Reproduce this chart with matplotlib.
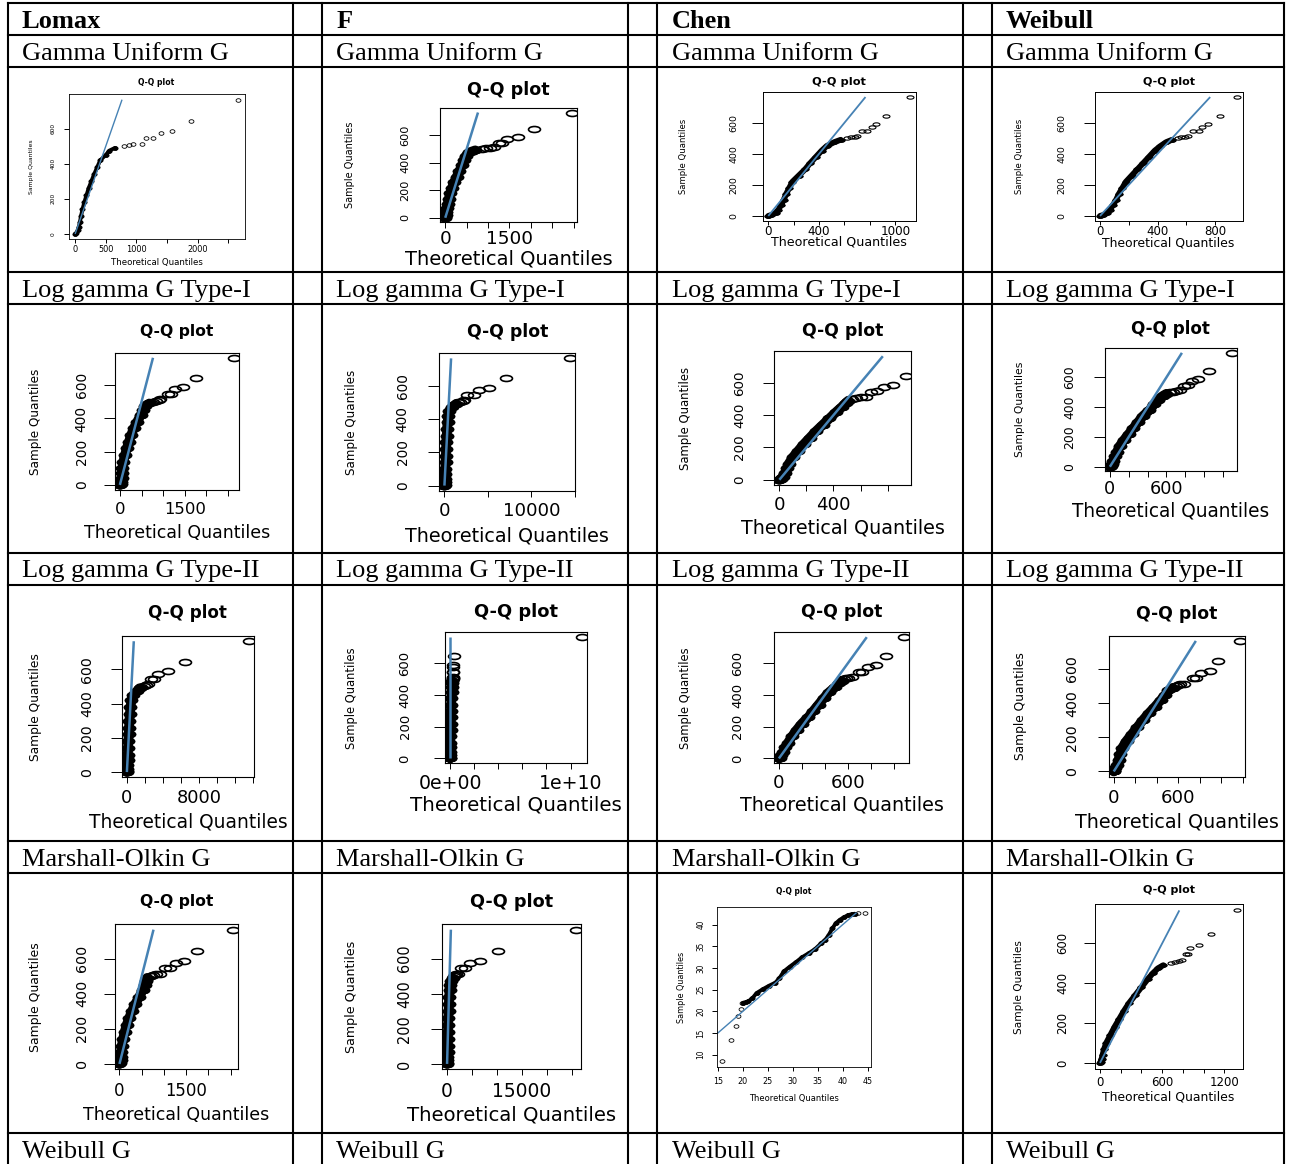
#!/usr/bin/env python3
# Q-Q plot table: four baseline distributions x five generator families
import numpy as np
import matplotlib
matplotlib.use("Agg")
import matplotlib.pyplot as plt
from matplotlib.lines import Line2D
from matplotlib.path import Path
from matplotlib.transforms import Affine2D

W, H = 1304, 1164
BLUE = "#4682B4"

BASELINES = ["Lomax", "F", "Chen", "Weibull"]
FAMILIES = ["Gamma Uniform G", "Log gamma G Type-I", "Log gamma G Type-II",
            "Marshall-Olkin G", "Weibull G"]

# sorted sample quantiles (same data set in every panel but Chen / Marshall-Olkin)
SAMPLE_Q = [0, 5, 20, 40, 70, 100, 140, 180, 220, 260, 300, 340, 380, 420, 450,
            475, 490, 500, 505, 510, 515, 545, 547, 575, 589, 645, 765]

# theoretical quantiles
THEO_LOMAX_GU = [0, 20, 45, 60, 80, 95, 120, 150, 185, 220, 265, 310, 360, 410, 500,
                 560, 650, 800, 871, 940, 1097, 1158, 1269, 1399, 1577, 1886, 2656]
THEO_F_GU = [0, 5, 15, 25, 40, 60, 85, 120, 160, 210, 270, 330, 390, 430, 480,
             560, 700, 850, 950, 1050, 1130, 1250, 1330, 1451, 1701, 2081, 2951]
THEO_CHEN_GU = [0, 20, 60, 80, 100, 120, 140, 165, 190, 240, 290, 330, 375, 420, 460,
                520, 570, 620, 650, 680, 700, 735, 780, 820, 850, 929, 1115]
THEO_WEIBULL_GU = [0, 20, 50, 70, 90, 110, 130, 155, 180, 220, 260, 300, 340, 380, 420,
                   460, 500, 540, 565, 590, 610, 649, 690, 710, 750, 831, 952]

THEO_LOMAX_LG1 = [0, 20, 30, 40, 50, 60, 80, 120, 160, 210, 260, 320, 400, 480, 540,
                  590, 680, 760, 830, 900, 926, 1122, 1180, 1269, 1464, 1756, 2636]
THEO_F_LG1 = [0, 20, 40, 60, 80, 100, 130, 160, 190, 220, 260, 300, 360, 450, 550,
              900, 1348, 1600, 1843, 2100, 2200, 2569, 3387, 4020, 5138, 7073, 14430]
THEO_CHEN_LG1 = [0, 10, 25, 40, 55, 70, 100, 140, 180, 225, 270, 320, 370, 420, 460,
                 490, 510, 540, 570, 601, 640, 679, 719, 772, 843, 933, np.nan]
THEO_WEIBULL_LG1 = [0, 10, 20, 35, 55, 75, 105, 150, 200, 250, 300, 350, 420, 470, 510,
                    560, 600, 640, 670, 700, 740, 785, 830, 873, 941, 1051, 1295]

THEO_LOMAX_LG2 = [0, 20, 40, 60, 80, 100, 130, 160, 200, 240, 280, 330, 400, 500, 700,
                  1154, 1400, 1600, 1846, 2100, 2300, 2682, 3000, 3462, 4528, 6473, 13500]
THEO_F_LG2 = [0, 0, 1e6, 2e6, 5e6, 1e7, 2e7, 3e7, 4e7, 5e7, 6e7, 8e7, 1e8, 1.2e8, 1.4e8,
              1.6e8, 1.8e8, 2e8, 2.1e8, 2.2e8, 2.3e8, 2.4e8, 2.5e8, 2.6e8, 2.7e8, 2.8e8, 1.094e10]
THEO_CHEN_LG2 = [0, 10, 20, 35, 55, 80, 115, 155, 200, 255, 300, 345, 390, 440, 490,
                 520, 545, 565, 585, 603, 640, 700, 724, 779, 841, 932, 1089]
THEO_WEIBULL_LG2 = [0, 5, 15, 30, 45, 60, 80, 120, 170, 220, 270, 325, 385, 440, 480,
                    510, 550, 580, 600, 618, 650, 736, 770, 815, 893, 971, 1176]

THEO_LOMAX_MO = [0, 15, 25, 30, 40, 50, 80, 115, 160, 215, 280, 350, 440, 520, 570,
                 600, 619, 700, 762, 830, 905, 1030, 1145, 1259, 1450, 1735, 2556]
THEO_F_MO = [0, 20, 40, 60, 90, 120, 150, 180, 210, 250, 300, 350, 420, 500, 600,
             800, 1100, 1400, 1600, 1860, 2200, 2730, 3580, 4680, 6560, 10220, 25890]
THEO_WEIBULL_MO = [0, 5, 15, 25, 40, 60, 100, 140, 185, 230, 280, 340, 400, 460, 510,
                   560, 610, 685, 720, 757, 790, 826, 850, 866, 958, 1067, 1322]

# Chen / Marshall-Olkin uses its own small data set
CHEN_MO_SAMPLE = [8.47, 13.37, 16.67, 18.9, 20.43, 21.9, 22.0, 22.1, 22.3, 23.0, 24.2,
                  25.1, 25.9, 26.6, 27.6, 29.2, 30.3, 31.4, 32.5, 33.4, 34.3, 35.7, 36.5,
                  37.6, 39.1, 40.3, 41.1, 41.7, 42.2, 42.4, 42.5, 42.6, 42.75]
CHEN_MO_THEO = [15.92, 17.67, 18.58, 19.0, 19.58, 19.83, 20.1, 20.6, 21.1, 21.9, 22.75,
                24.0, 25.25, 26.5, 27.3, 28.2, 29.4, 30.7, 31.9, 33.2, 34.4, 35.7, 36.5,
                37.2, 37.9, 38.6, 39.4, 40.25, 41.1, 41.9, 42.4, 43.1, 44.5]

# axis ticks / labels (R drops labels that would collide)
Y_TICKS = [0, 200, 400, 600]
Y_TICK_LABELS = ["0", "200", "400", "600"]
CHEN_MO_Y_TICKS = [10, 15, 20, 25, 30, 35, 40]
CHEN_MO_Y_LABELS = ["10", "15", "20", "25", "30", "35", "40"]

XT_2500 = [0, 500, 1000, 1500, 2000, 2500]
XL_LOMAX_GU = ["0", "500", "1000", "", "2000", ""]
XL_2500 = ["0", "", "", "1500", "", ""]
XT_3000 = [0, 500, 1000, 1500, 2000, 2500, 3000]
XL_3000 = ["0", "", "", "1500", "", "", ""]
XT_1000 = [0, 200, 400, 600, 800, 1000]
XL_CHEN_GU = ["0", "", "400", "", "", "1000"]
XL_CHEN_LG2 = ["0", "", "", "600", "", ""]
XT_800 = [0, 200, 400, 600, 800]
XL_WEIBULL_GU = ["0", "", "400", "", "800"]
XL_CHEN_LG1 = ["0", "", "400", "", ""]
XT_1200 = [0, 200, 400, 600, 800, 1000, 1200]
XL_1200 = ["0", "", "", "600", "", "", ""]
XL_WEIBULL_MO = ["0", "", "", "600", "", "", "1200"]
XT_15000 = [0, 5000, 10000, 15000]
XL_15000 = ["0", "", "10000", ""]
XT_14000 = [0, 2000, 4000, 6000, 8000, 10000, 12000, 14000]
XL_14000 = ["0", "", "", "", "8000", "", "", ""]
XT_1E10 = [0, 2e9, 4e9, 6e9, 8e9, 1e10]
XL_1E10 = ["0e+00", "", "", "", "", "1e+10"]
XT_25000 = [0, 5000, 10000, 15000, 20000, 25000]
XL_25000 = ["0", "", "", "15000", "", ""]
XT_CHEN_MO = [15, 20, 25, 30, 35, 40, 45]
XL_CHEN_MO = ["15", "20", "25", "30", "35", "40", "45"]

# ---------------------------------------------------------------- layout (pixels)
VLINES = [8, 293, 322, 628, 657, 963, 992, 1284]
HLINES = [3, 35, 67, 272, 304, 553, 585, 841, 873, 1133]
COL_TEXT_X = [22, 336.5, 671.5, 1006]
LABEL_ROW_TOP = [35, 272, 553, 841, 1133]

# the source plots were pasted with a horizontal stretch, so horizontal and
# rotated text get separate size factors
STYLE = {
    "tiny": dict(wf=0.92, vf=1.08, ytf=0.95, ms=3.5, asp=1.35, mew=0.6, band=2.8,
                 blue=1.0, xtl=2.9, ytl=3.9, spine=0.6),
    "big": dict(wf=0.85, vf=1.08, ytf=1.15, ms=8.6, asp=2.0, mew=1.2, band=7.0,
                blue=1.8, xtl=4.3, ytl=8.0, spine=0.8),
    "wide": dict(wf=0.63, vf=1.5, ytf=1.1, ms=5.0, asp=2.1, mew=0.8, band=4.2,
                 blue=1.3, xtl=2.6, ytl=8.0, spine=0.7),
}

DENSE = slice(0, 17)
DENSE_CHEN_MO = slice(6, 31)

# box (l, t, r, b) and text anchors (title y, xtick y, xlabel y, ylabel x, ytick x,
# xlabel width, ylabel length)
PANELS = [
    ((68.6, 94.3, 244.5, 239.3), (81.7, 248, 261.7, 31.6, 52.6, 100, 50), "tiny",
     THEO_LOMAX_GU, SAMPLE_Q, XT_2500, XL_LOMAX_GU, Y_TICKS, Y_TICK_LABELS, DENSE),
    ((440.2, 108.3, 576.6, 222), (88.7, 237.3, 257.3, 350, 404, 244, 80), "big",
     THEO_F_GU, SAMPLE_Q, XT_3000, XL_3000, Y_TICKS, Y_TICK_LABELS, DENSE),
    ((762.6, 92.3, 915.6, 220.7), (81, 229.3, 241.3, 683.4, 733.4, 215, 50), "wide",
     THEO_CHEN_GU, SAMPLE_Q, XT_1000, XL_CHEN_GU, Y_TICKS, Y_TICK_LABELS, DENSE),
    ((1094.5, 92.3, 1242.6, 220.7), (81, 229.3, 242.3, 1019, 1060.8, 209, 50), "wide",
     THEO_WEIBULL_GU, SAMPLE_Q, XT_800, XL_WEIBULL_GU, Y_TICKS, Y_TICK_LABELS, DENSE),

    ((115.3, 352.7, 238.6, 490), (330, 508.3, 531.7, 35.8, 80.8, 218, 98), "big",
     THEO_LOMAX_LG1, SAMPLE_Q, XT_2500, XL_2500, Y_TICKS, Y_TICK_LABELS, DENSE),
    ((439.4, 353.3, 575, 490.7), (330, 509, 534, 351.4, 402, 240, 97), "big",
     THEO_F_LG1, SAMPLE_Q, XT_15000, XL_15000, Y_TICKS, Y_TICK_LABELS, DENSE),
    ((774.3, 351.3, 910.6, 484.7), (329.3, 502.7, 526, 685.4, 738.4, 240, 95), "big",
     THEO_CHEN_LG1, SAMPLE_Q, XT_800, XL_CHEN_LG1, Y_TICKS, Y_TICK_LABELS, DENSE),
    ((1105, 348.3, 1236.7, 471.3), (327.7, 487.3, 509.3, 1020, 1069, 233, 88), "big",
     THEO_WEIBULL_LG1, SAMPLE_Q, XT_1200, XL_1200, Y_TICKS, Y_TICK_LABELS, DENSE),

    ((122, 636, 253.8, 777.3), (611.7, 796, 820, 35.8, 86.3, 234, 100), "big",
     THEO_LOMAX_LG2, SAMPLE_Q, XT_14000, XL_14000, Y_TICKS, Y_TICK_LABELS, DENSE),
    ((444.9, 632.3, 587.1, 763.3), (610, 781, 803.3, 351.4, 404, 250, 94), "big",
     THEO_F_LG2, SAMPLE_Q, XT_1E10, XL_1E10, Y_TICKS, Y_TICK_LABELS, DENSE),
    ((773.9, 632.3, 909, 763.3), (610, 781, 803.3, 685.4, 736.7, 241, 94), "big",
     THEO_CHEN_LG2, SAMPLE_Q, XT_1000, XL_CHEN_LG2, Y_TICKS, Y_TICK_LABELS, DENSE),
    ((1108.7, 635.7, 1245, 776.7), (612.3, 796, 820, 1020.3, 1071, 240, 100), "big",
     THEO_WEIBULL_LG2, SAMPLE_Q, XT_1200, XL_1200, Y_TICKS, Y_TICK_LABELS, DENSE),

    ((114.9, 924.3, 237.8, 1069.3), (900, 1089, 1113.3, 35.8, 80.8, 219, 101), "big",
     THEO_LOMAX_MO, SAMPLE_Q, XT_2500, XL_2500, Y_TICKS, Y_TICK_LABELS, DENSE),
    ((441.9, 924.3, 581.2, 1069.3), (900, 1089, 1113.3, 351.4, 404, 246, 103), "big",
     THEO_F_MO, SAMPLE_Q, XT_25000, XL_25000, Y_TICKS, Y_TICK_LABELS, DENSE),
    ((716.7, 906.7, 871, 1067.3), (891, 1080, 1097.3, 681.3, 700.9, 97.6, 65), "tiny",
     CHEN_MO_THEO, CHEN_MO_SAMPLE, XT_CHEN_MO, XL_CHEN_MO, CHEN_MO_Y_TICKS,
     CHEN_MO_Y_LABELS, DENSE_CHEN_MO),
    ((1094.5, 904.3, 1242.6, 1069), (889.3, 1080.7, 1096, 1019, 1062.8, 209, 62), "wide",
     THEO_WEIBULL_MO, SAMPLE_Q, XT_1200, XL_WEIBULL_MO, Y_TICKS, Y_TICK_LABELS, DENSE),
]


def r_range(v):
    # R's default 4% axis extension
    lo, hi = np.nanmin(v), np.nanmax(v)
    d = 0.04 * (hi - lo)
    return lo - d, hi + d


def qq_panel(fig, box, txt, style, theo, samp, xt, xtl, yt, ytl, dense):
    l, t, r, b = box
    ty, xty, xly, ylx, ytx, xw, yl = txt
    st = STYLE[style]
    ax = fig.add_axes([l / W, 1 - b / H, (r - l) / W, (b - t) / H])
    x = np.asarray(theo, float)
    y = np.asarray(samp, float)
    ax.set_xlim(r_range(x))
    ax.set_ylim(r_range(y))

    mk = Path.unit_circle().transformed(Affine2D().scale(st["asp"], 1.0))
    ax.plot(x[dense], y[dense], color="k", lw=st["band"], marker=mk, ms=st["ms"],
            mfc="k", mec="k", mew=st["mew"], solid_joinstyle="round",
            solid_capstyle="round")
    ax.plot(x, y, ls="none", marker=mk, ms=st["ms"], mfc="none", mec="k",
            mew=st["mew"])
    lo, hi = np.nanmin(y), np.nanmax(y)
    ax.plot([lo, hi], [lo, hi], color=BLUE, lw=st["blue"], solid_capstyle="butt")

    pt = 0.72
    ex = st["wf"] * xw / 10.68      # em (px) for horizontal text
    ey = st["vf"] * yl / 8.82       # em (px) for rotated text
    xt_em, yt_em = 0.95 * ex, st["ytf"] * ey
    xpad = max(xty - 0.395 * xt_em - b - st["xtl"] / pt, 0) * pt
    ypad = max(l - st["ytl"] / pt - (ytx + 0.573 * yt_em), 0) * pt
    ax.tick_params(axis="x", length=st["xtl"], width=0.7, pad=xpad, direction="out")
    ax.tick_params(axis="y", length=st["ytl"], width=0.7, pad=ypad, direction="out")
    ax.set_xticks(xt, xtl, fontsize=xt_em * pt)
    ax.set_yticks(yt, ytl, fontsize=yt_em * pt, rotation=90, va="center", ha="right")
    for sp in ax.spines.values():
        sp.set_linewidth(st["spine"])

    h = b - t
    ax.set_title("Q-Q plot", fontsize=0.9 * ex * pt, fontweight="bold", va="center",
                 y=(b - ty - 0.09 * ex) / h, pad=0)
    ax.set_xlabel("Theoretical Quantiles", fontsize=ex * pt, va="center")
    ax.xaxis.set_label_coords(0.5, (b - xly - 0.09 * ex) / h)
    ax.set_ylabel("Sample Quantiles", fontsize=ey * pt, va="center")
    ax.yaxis.set_label_coords((ylx - l) / (r - l), 0.5)
    return ax


def main():
    fig = plt.figure(figsize=(W / 100, H / 100), dpi=100)
    fig.patch.set_facecolor("white")

    for xv in VLINES:
        fig.add_artist(Line2D([xv / W, xv / W], [1 - HLINES[0] / H, 0],
                              transform=fig.transFigure, color="k", lw=1.5))
    for yv in HLINES:
        fig.add_artist(Line2D([VLINES[0] / W, VLINES[-1] / W], [1 - yv / H] * 2,
                              transform=fig.transFigure, color="k", lw=1.5))

    serif = ["Liberation Serif", "DejaVu Serif"]
    for cx, name in zip(COL_TEXT_X, BASELINES):
        fig.text(cx / W, 1 - (HLINES[0] + 25) / H, name, family=serif, fontsize=19,
                 fontweight="bold", va="baseline", ha="left")
        for top, fam in zip(LABEL_ROW_TOP, FAMILIES):
            fig.text(cx / W, 1 - (top + 24.5) / H, fam, family=serif, fontsize=19,
                     va="baseline", ha="left")

    for p in PANELS:
        qq_panel(fig, *p)

    fig.savefig("out.png", dpi=100, facecolor="white")


if __name__ == "__main__":
    main()
